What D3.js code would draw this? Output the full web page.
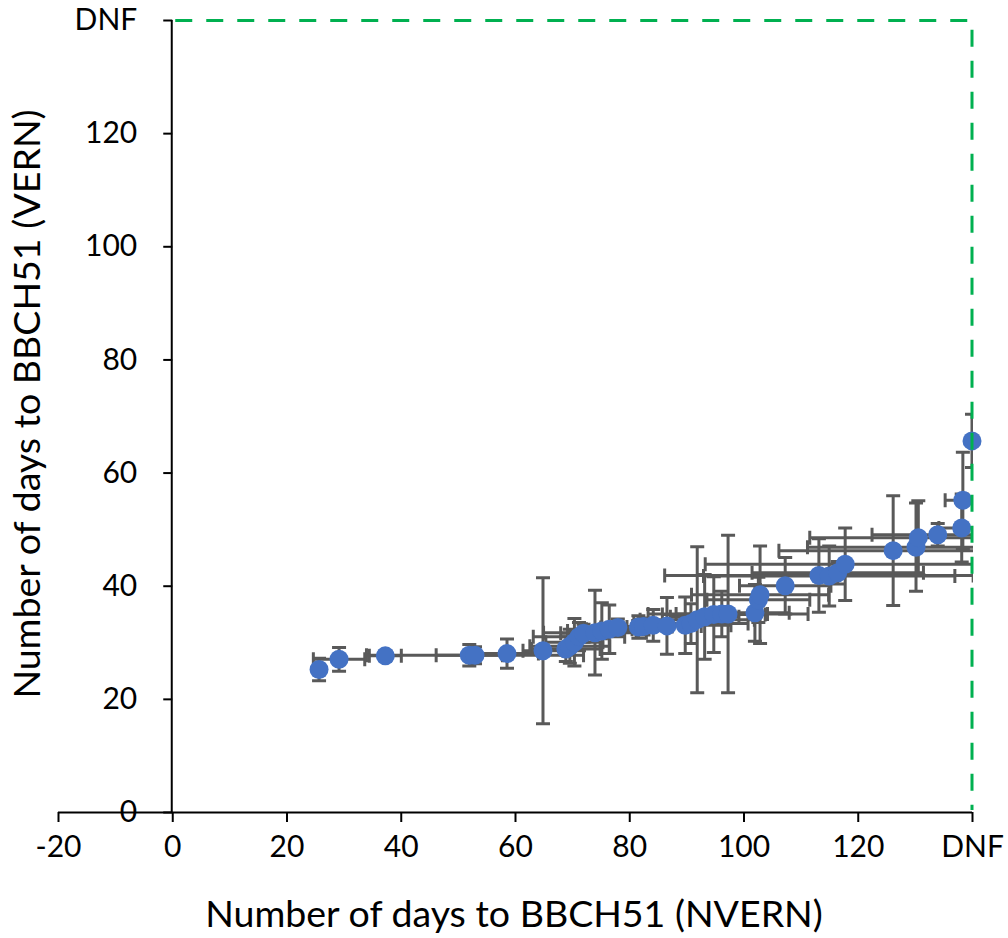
<!DOCTYPE html>
<html>
<head>
<meta charset="utf-8">
<script src="https://cdn.jsdelivr.net/npm/d3@7"></script>
<style>
  html, body { margin: 0; padding: 0; background: #fff; }
  svg { display: block; }
  text { font-family: Lato, "Open Sans", sans-serif; fill: #000; }
</style>
</head>
<body>
<svg id="chart" width="1008" height="938"></svg>
<script>
// ---- data ----
const xVals = [25.7, 29.2, 37.3, 52.0, 53.0, 58.6, 64.9, 68.9, 69.6, 70.4, 71.2, 72.0, 74.0, 75.2, 76.5, 78.0,
               81.6, 82.5, 84.2, 86.6, 89.8, 90.8, 91.9, 93.2, 94.8, 96.2, 97.3, 102.0, 102.6, 102.9, 107.3,
               113.2, 115.0, 116.5, 117.8, 126.2, 130.2, 130.6, 134.0, 138.2, 138.4, 140.0];
const yVals = [25.2, 27.0, 27.6, 27.7, 27.7, 28.0, 28.5, 28.8, 29.3, 30.0, 31.0, 31.6, 31.7, 32.0, 32.3, 32.6,
               32.7, 32.8, 33.0, 32.9, 33.0, 33.3, 34.0, 34.5, 34.9, 35.0, 35.0, 35.2, 37.5, 38.4, 40.0,
               41.8, 41.7, 42.3, 43.8, 46.2, 46.8, 48.5, 49.0, 50.2, 55.1, 65.6];
const xErr  = [0.8, 4.5, 2.8, 5.8, 19.0, 5.5, 3.5, 6.0, 7.0, 5.0, 8.0, 4.0, 9.0, 6.0, 4.0, 3.0,
               2.0, 5.0, 3.0, 6.0, 8.0, 10.0, 10.0, 6.0, 9.0, 8.0, 14.0, 6.0, 9.0, 12.0, 8.0,
               27.0, 22.0, 15.0, 24.5, 20.0, 19.0, 19.0, 11.5, 4.0, 3.1, 0.0];
const yErr  = [2.0, 2.1, 0.8, 1.9, 1.5, 2.6, 12.9, 2.2, 3.0, 4.2, 2.5, 1.6, 7.5, 5.0, 4.3, 1.5,
               2.0, 1.5, 2.8, 5.0, 5.0, 3.5, 12.9, 7.5, 6.7, 4.0, 13.9, 5.0, 4.0, 8.6, 5.0,
               6.5, 5.3, 2.0, 6.4, 9.7, 7.8, 6.5, 2.0, 6.0, 8.5, 4.7];
const xTicks = [-20, 0, 20, 40, 60, 80, 100, 120, 140];
const yTicks = [0, 20, 40, 60, 80, 100, 120, 140];
const dnfValue = 140;
const xTitle = "Number of days to BBCH51 (NVERN)";
const yTitle = "Number of days to BBCH51 (VERN)";

const points = xVals.map((x, i) => ({ x, y: yVals[i], ex: xErr[i], ey: yErr[i] }));

const svg = d3.select("#chart");
const x = d3.scaleLinear().domain([-20, 140]).range([58, 972]);
const y = d3.scaleLinear().domain([0, 140]).range([812, 20]);
const fmt = v => v === dnfValue ? "DNF" : String(v);

// clip to plot area
svg.append("defs").append("clipPath").attr("id", "plotclip")
  .append("rect").attr("x", x(-20)).attr("y", y(140))
  .attr("width", x(140) - x(-20) + 1).attr("height", y(0) - y(140));

// ---- axes ----
const xAxis = svg.append("g").attr("transform", `translate(0,${y(0)})`)
  .call(d3.axisBottom(x).tickValues(xTicks).tickFormat(fmt).tickSize(10).tickPadding(14));
const yAxis = svg.append("g").attr("transform", `translate(${x(0)},0)`)
  .call(d3.axisLeft(y).tickValues(yTicks).tickFormat(fmt).tickSize(9).tickPadding(26));
[xAxis, yAxis].forEach(g => {
  g.select(".domain").attr("stroke", "#000").attr("stroke-width", 2);
  g.selectAll(".tick line").attr("stroke", "#000").attr("stroke-width", 2);
  g.selectAll(".tick text").style("font-family", "Lato, 'Open Sans', sans-serif")
    .style("font-size", "30px").attr("fill", "#000");
});
xAxis.select(".domain").attr("d", `M${x(-20)},0.5H${x(140)}`);
yAxis.select(".domain").attr("d", `M-0.5,${y(140)}V${y(0)}`);

// ---- error bars ----
const eb = svg.append("g").attr("clip-path", "url(#plotclip)")
  .attr("stroke", "#595959").attr("stroke-width", 3).attr("fill", "none");
const cap = 7;
points.forEach(p => {
  if (p.ex > 0) {
    const x1 = x(p.x - p.ex), x2 = x(p.x + p.ex), yy = y(p.y);
    eb.append("path").attr("d",
      `M${x1},${yy}H${x2}M${x1},${yy - cap}V${yy + cap}M${x2},${yy - cap}V${yy + cap}`);
  }
  if (p.ey > 0) {
    const y1 = y(p.y - p.ey), y2 = y(p.y + p.ey), xx = x(p.x);
    eb.append("path").attr("d",
      `M${xx},${y1}V${y2}M${xx - cap},${y1}H${xx + cap}M${xx - cap},${y2}H${xx + cap}`);
  }
});

// ---- markers ----
svg.append("g").selectAll("circle").data(points).join("circle")
  .attr("cx", d => x(d.x)).attr("cy", d => y(d.y)).attr("r", 9.5)
  .attr("fill", "#4472C4");

// ---- DNF boundary (green dashed) ----
svg.append("path")
  .attr("d", `M${x(0) + 3},${y(140) + 0.5}H${x(140)}V${y(0) - 2}`)
  .attr("fill", "none").attr("stroke", "#00B050").attr("stroke-width", 3)
  .attr("stroke-dasharray", "17,14");

// ---- titles ----
svg.append("text").attr("x", 514).attr("y", 927).attr("text-anchor", "middle")
  .style("font-size", "37.5px").text(xTitle);
svg.append("text").attr("transform", "translate(40,404) rotate(-90)").attr("text-anchor", "middle")
  .style("font-size", "37.5px").text(yTitle);
</script>
</body>
</html>
